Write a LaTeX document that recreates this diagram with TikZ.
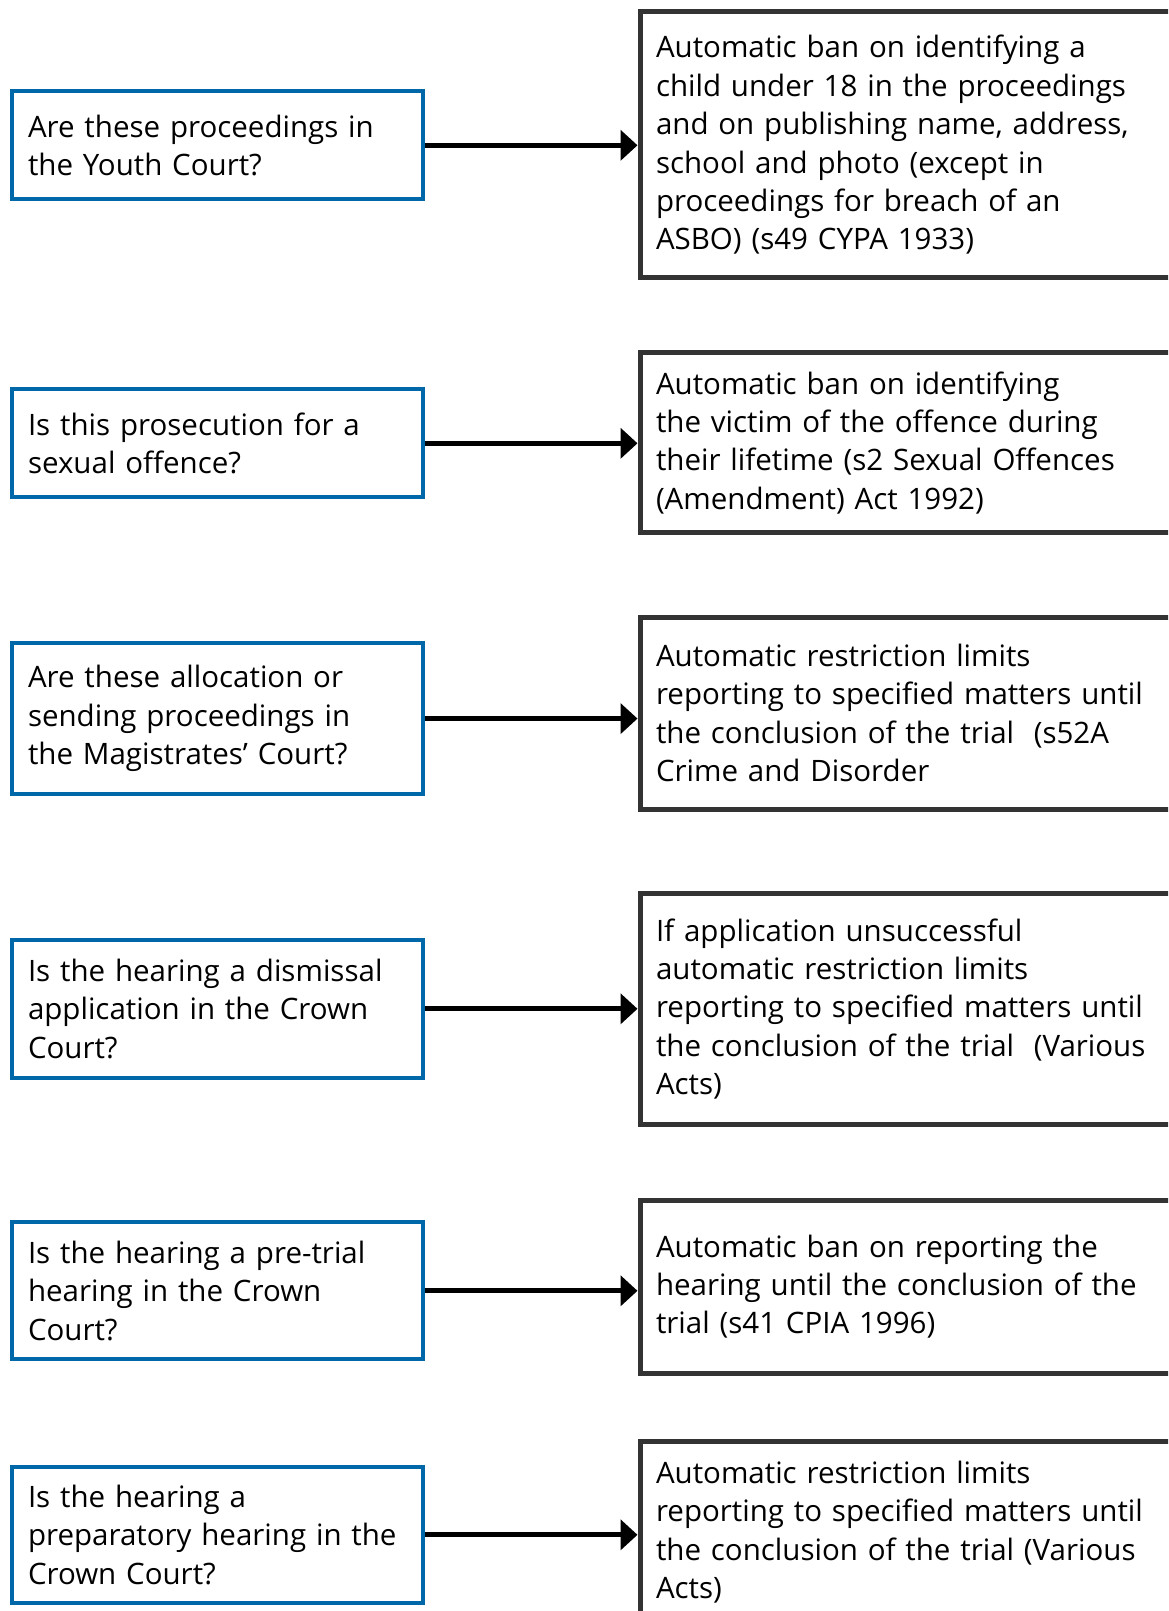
\documentclass[tikz,border=0pt]{standalone}
\usepackage{fontspec}
\setmainfont{Open Sans}
\usepackage{tikz}
\usetikzlibrary{arrows.meta}

\definecolor{qblue}{HTML}{0068A9}
\definecolor{rgrey}{HTML}{333333}

\begin{document}
\begin{tikzpicture}[
      x=1pt, y=-1pt,
      font=\fontsize{29.5}{38.4}\selectfont,
      query/.style={draw=qblue, line width=4pt, anchor=west, align=left,
                    text width=378pt, inner xsep=16.5pt, fill=white},
      rule/.style={draw=rgrey, line width=5pt, anchor=west, align=left,
                   text width=560pt, inner xsep=16pt, fill=white},
      arr/.style={-{Triangle[length=17pt, width=30pt]}, line width=5pt},
    ]
    \useasboundingbox (0,0) rectangle (1168,1611);
    \clip (0,0) rectangle (1168,1611);
    % ── questions ──
    \node[query, minimum height=108pt] (q1) at (9.5,145.3)
      {Are these proceedings in\\the Youth Court?};
    \node[query, minimum height=108pt] (q2) at (9.5,443.3)
      {Is this prosecution for a\\sexual offence?};
    \node[query, minimum height=151pt] (q3) at (9.5,718.6)
      {Are these allocation or\\sending proceedings in\\the Magistrates’ Court?};
    \node[query, minimum height=138pt] (q4) at (9.5,1008.8)
      {Is the hearing a dismissal\\application in the Crown\\Court?};
    \node[query, minimum height=137pt] (q5) at (9.5,1290.8)
      {Is the hearing a pre-trial\\hearing in the Crown\\Court?};
    \node[query, minimum height=136pt] (q6) at (9.5,1534.8)
      {Is the hearing a\\preparatory hearing in the\\Crown Court?};
    % ── restrictions ──
    \node[rule, minimum height=266pt] (r1) at (637.5,144.9)
      {Automatic ban on identifying a\\child under 18 in the proceedings\\and on publishing name, address,\\school and photo (except in\\proceedings for breach of an\\ASBO) (s49 CYPA 1933)};
    \node[rule, minimum height=180pt] (r2) at (637.5,442.8)
      {Automatic ban on identifying\\the victim of the offence during\\their lifetime (s2 Sexual Offences\\(Amendment) Act 1992)};
    \node[rule, minimum height=192pt] (r3) at (637.5,713)
      {Automatic restriction limits\\reporting to specified matters until\\the conclusion of the trial\ \ (s52A\\Crime and Disorder};
    \node[rule, minimum height=231pt] (r4) at (637.5,1008.9)
      {If application unsuccessful\\automatic restriction limits\\reporting to specified matters until\\the conclusion of the trial\ \ (Various\\Acts)};
    \node[rule, minimum height=173pt] (r5) at (637.5,1286.7)
      {Automatic ban on reporting the\\hearing until the conclusion of the\\trial (s41 CPIA 1996)};
    \node[rule, minimum height=182pt] (r6) at (637.5,1532)
      {Automatic restriction limits\\reporting to specified matters until\\the conclusion of the trial (Various\\Acts)};
    \foreach \i in {1,...,6}
      \draw[arr] (q\i.east) -- (r\i.west |- q\i.east);
  \end{tikzpicture}
\end{document}
